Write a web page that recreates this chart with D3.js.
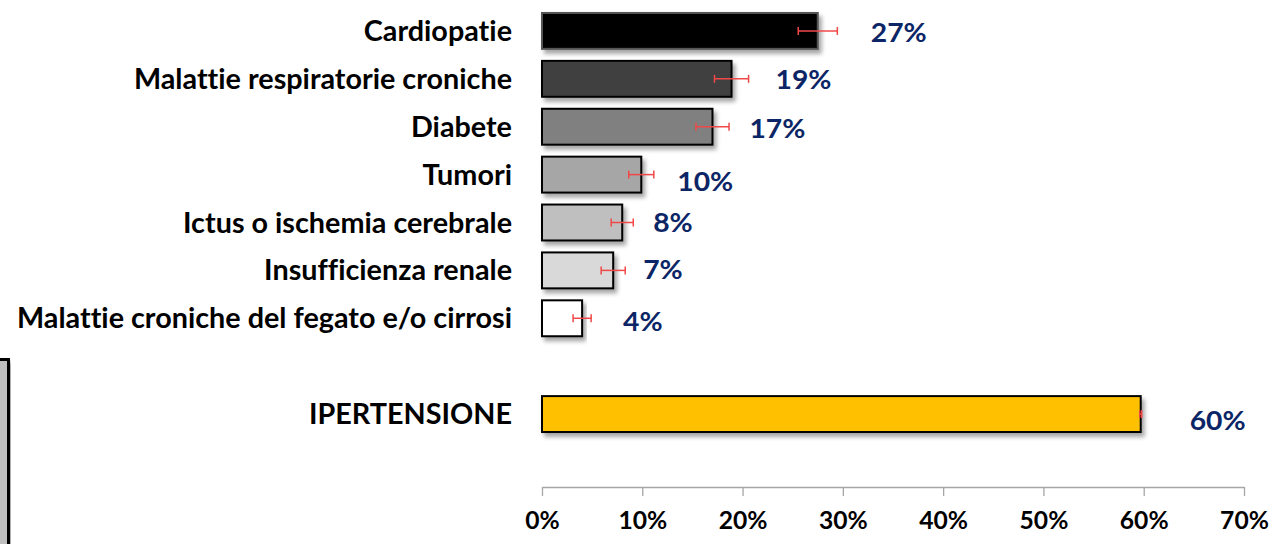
<!DOCTYPE html>
<html><head><meta charset="utf-8">
<script src="https://cdn.jsdelivr.net/npm/d3@7"></script>
<style>
html,body{margin:0;padding:0;background:#fff;}
svg{display:block;}
text{font-family:Lato,"Open Sans",sans-serif;font-weight:700;font-variant-ligatures:none;font-feature-settings:"liga" 0,"clig" 0;}
</style></head>
<body>
<svg id="chart" width="1277" height="544"></svg>
<script>
// ---- data ----
const categories = ["Cardiopatie","Malattie respiratorie croniche","Diabete","Tumori","Ictus o ischemia cerebrale","Insufficienza renale","Malattie croniche del fegato e/o cirrosi","","IPERTENSIONE"];
const values = [0.275, 0.189, 0.170, 0.099, 0.080, 0.071, 0.040, null, 0.597];
const errors = [0.0195, 0.017, 0.0165, 0.0125, 0.011, 0.012, 0.009, null, 0.001];
const valueLabels = ["27%","19%","17%","10%","8%","7%","4%","","60%"];
const tickValues = [0,0.1,0.2,0.3,0.4,0.5,0.6,0.7];
const tickLabels = ["0%","10%","20%","30%","40%","50%","60%","70%"];

// ---- style / layout ----
const fills = ["#000000","#404040","#808080","#a6a6a6","#bfbfbf","#d9d9d9","#ffffff",null,"#ffc000"];
const labelDx = [53,44,37,36,31,30,41,0,49];
const labelDy = [1.5,0,1,6,0,-1.5,3,0,6.5];

const svg = d3.select("#chart");
const x = d3.scaleLinear().domain([0,0.7]).range([542,1244]);
const y = d3.scaleBand().domain(d3.range(categories.length)).range([1,444]).paddingInner(0.25).paddingOuter(0.25);
const bw = y.bandwidth();

const defs = svg.append("defs");
const f = defs.append("filter").attr("id","shadow").attr("x","-5%").attr("y","-30%").attr("width","115%").attr("height","180%");
f.append("feDropShadow").attr("dx",3).attr("dy",4).attr("stdDeviation",2.2).attr("flood-color","#000").attr("flood-opacity",0.35);

// left framed box fragment
svg.append("rect").attr("x",-10).attr("y",359.5).attr("width",18.5).attr("height",300)
  .attr("fill","#bfbfbf").attr("stroke","#000").attr("stroke-width",3).attr("filter","url(#shadow)");

const idx = d3.range(categories.length).filter(i => values[i] !== null);

// bars
svg.append("g").selectAll("rect").data(idx).join("rect")
  .attr("x", x(0)).attr("y", i => y(i))
  .attr("width", i => x(values[i]) - x(0)).attr("height", bw)
  .attr("fill", i => fills[i])
  .attr("stroke", i => i === 0 ? "#555" : "#000").attr("stroke-width",2)
  .attr("filter","url(#shadow)");

// error bars
const eg = svg.append("g").attr("stroke","#f04848").attr("stroke-width",1.5).attr("fill","none");
idx.forEach(i => {
  const cy = y(i) + bw/2, x1 = x(values[i]-errors[i]), x2 = x(values[i]+errors[i]);
  eg.append("line").attr("x1",x1).attr("x2",x2).attr("y1",cy).attr("y2",cy);
  eg.append("line").attr("x1",x1).attr("x2",x1).attr("y1",cy-4).attr("y2",cy+4);
  eg.append("line").attr("x1",x2).attr("x2",x2).attr("y1",cy-4).attr("y2",cy+4);
});

// category labels
const catG = svg.append("g");
const cats = catG.selectAll("text").data(idx).join("text")
  .attr("x",512).attr("y", i => y(i)+bw/2).attr("dy","0.36em")
  .attr("text-anchor","end").attr("font-size",28).attr("fill","#000")
  .text(i => categories[i]);
// compress horizontally to mimic a condensed face
const longest = cats.nodes()[6].getComputedTextLength();
const sx = 495/longest;
cats.each(function(){ const w=this.getComputedTextLength(); d3.select(this).attr("textLength",w*sx).attr("lengthAdjust","spacingAndGlyphs"); });

// value labels
const vl = svg.append("g").selectAll("text").data(idx).join("text")
  .attr("x", i => x(values[i]) + labelDx[i]).attr("y", i => y(i)+bw/2+labelDy[i]).attr("dy","0.36em")
  .attr("font-size",27.5).attr("fill","#0b2566")
  .text(i => valueLabels[i]);
vl.each(function(){ const w=this.getComputedTextLength(); d3.select(this).attr("textLength",w*sx).attr("lengthAdjust","spacingAndGlyphs"); });

// axis
const axis = d3.axisBottom(x).tickValues(tickValues).tickFormat((d,i)=>tickLabels[i]).tickSize(9).tickSizeOuter(0).tickPadding(16);
const ag = svg.append("g").attr("transform","translate(0,487)").call(axis);
ag.select(".domain").attr("stroke","#a6a6a6").attr("stroke-width",1.3);
ag.selectAll(".tick line").attr("stroke","#a6a6a6").attr("stroke-width",1.3);
ag.selectAll(".tick text").attr("font-size",24).attr("fill","#000").attr("font-family","Lato, 'Open Sans', sans-serif").attr("font-weight",700)
  .each(function(){ const w=this.getComputedTextLength(); d3.select(this).attr("textLength",w*sx).attr("lengthAdjust","spacingAndGlyphs"); });
</script>
</body></html>
